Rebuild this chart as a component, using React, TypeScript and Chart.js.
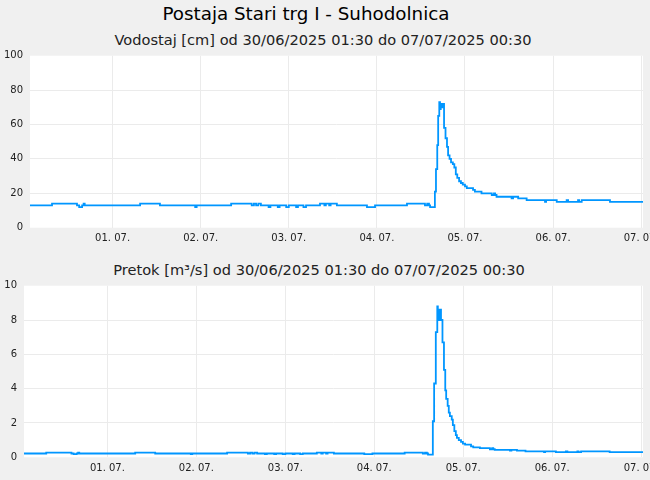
import React, { useEffect, useRef } from "react";
import Chart from "chart.js/auto";
import type { Plugin, Scale } from "chart.js";

const BG = "#f0f0f0";
const GRID = "#ebebeb";
const LINE = "#0096ff";
const TICK = "#222222";
const FONT = "'DejaVu Sans', Verdana, sans-serif";

// hours since 30/06/2025 01:30
const X_MAX = 167;
const dayTickHours = [22.5, 46.5, 70.5, 94.5, 118.5, 142.5, 166.5];
const dayTickLabels = ["01. 07.", "02. 07.", "03. 07.", "04. 07.", "05. 07.", "06. 07.", "07. 07."];

// Vodostaj [cm], step changes
const levelHours = [
  0, 6.0, 12.8, 13.4, 14.2, 14.6, 14.9, 30.0, 35.4, 45.0, 45.4, 54.8, 60.4, 61.0, 61.6, 62.2, 62.9,
  65.0, 65.5, 67.5, 68.0, 69.8, 70.5, 72.5, 73.0, 74.5, 75.2, 79.0, 80.2, 80.6, 81.5, 81.9, 83.6,
  91.8, 94.0, 102.7, 107.6, 108.2, 108.7, 109.0,
  110.3, 110.6, 110.95, 111.2, 111.5, 111.7, 111.9, 112.1, 112.4, 112.8, 113.2, 113.6, 113.9, 114.3,
  114.7, 115.2, 115.6, 116.0, 116.4, 116.9, 117.4, 117.9, 118.5, 119.0, 120.7, 121.2, 123.0, 125.8,
  126.4, 126.7, 127.1, 131.2, 131.6, 133.0, 135.3, 140.3, 140.6, 143.5, 146.2, 146.6, 149.3, 149.6,
  150.3, 158.0, 167,
];
const levelValues = [
  13, 14, 13, 12, 13, 14, 13, 14, 13, 12, 13, 14, 13, 14, 13, 14, 13,
  12, 13, 12, 13, 12, 13, 12, 13, 12, 13, 14, 13, 14, 13, 14, 13,
  12, 13, 14, 13, 14, 13, 12,
  21, 34, 48, 65, 73, 69, 72, 70, 72, 58, 52, 47, 42, 40,
  38, 37, 35, 31, 29, 27, 26, 25, 24, 23, 22, 21, 20, 19,
  20, 19, 18, 17, 18, 17, 16, 15, 16, 15, 16, 15, 16, 15,
  16, 15, 15,
];

// Pretok [m³/s], step changes
const flowHours = [
  0, 6.0, 12.8, 13.4, 14.2, 14.6, 14.9, 30.0, 35.4, 45.0, 45.4, 54.8, 60.4, 61.0, 61.6, 62.2, 62.9,
  65.0, 65.5, 67.5, 68.0, 69.8, 70.5, 72.5, 73.0, 74.5, 75.2, 79.0, 80.2, 80.6, 81.5, 81.9, 83.6,
  91.8, 94.0, 102.7, 107.6, 108.2, 108.7, 109.0,
  110.3, 110.65, 111.1, 111.5, 111.65, 111.8, 111.95, 112.1, 112.5, 112.9, 113.3, 113.65, 113.9,
  114.3, 114.6, 114.9, 115.4, 115.7, 116.1, 116.5, 116.8, 117.3, 117.9, 118.4, 119.0, 120.6, 121.2,
  123.0, 125.7, 126.3, 126.6, 127.0, 131.1, 131.5, 133.0, 135.3, 140.3, 140.6, 143.5, 146.2, 146.6,
  149.3, 149.6, 150.3, 158.0, 167,
];
const flowValues = [
  0.22, 0.27, 0.22, 0.18, 0.22, 0.27, 0.22, 0.27, 0.22, 0.18, 0.22, 0.27, 0.22, 0.27, 0.22, 0.27, 0.22,
  0.18, 0.22, 0.18, 0.22, 0.18, 0.22, 0.18, 0.22, 0.18, 0.22, 0.27, 0.22, 0.27, 0.22, 0.27, 0.22,
  0.18, 0.22, 0.27, 0.22, 0.27, 0.22, 0.16,
  2.1, 4.3, 7.3, 8.8, 8.1, 8.5, 8.0, 8.6, 8.0, 6.7, 5.1, 3.9, 3.4,
  3.0, 2.6, 2.4, 2.2, 1.87, 1.52, 1.29, 1.13, 1.0, 0.9, 0.8, 0.74, 0.64, 0.58,
  0.53, 0.47, 0.53, 0.47, 0.43, 0.39, 0.43, 0.39, 0.35, 0.3, 0.35, 0.3, 0.35, 0.3,
  0.35, 0.3, 0.35, 0.3, 0.3,
];

// white plot area on the grey page
const plotBackground: Plugin<"line"> = {
  id: "plotBackground",
  beforeDraw(c) {
    const { ctx, chartArea } = c;
    if (!chartArea) return;
    ctx.save();
    ctx.fillStyle = "#ffffff";
    ctx.fillRect(chartArea.left, chartArea.top, chartArea.right - chartArea.left, chartArea.bottom - chartArea.top);
    ctx.restore();
  },
};

type PanelProps = {
  hours: number[];
  values: number[];
  yMax: number;
  yStep: number;
  axisWidth: number;
  top: number;
  height: number;
  padTop: number;
  xAxisHeight: number;
};

function Panel({ hours, values, yMax, yStep, axisWidth, top, height, padTop, xAxisHeight }: PanelProps) {
  const canvasRef = useRef<HTMLCanvasElement | null>(null);

  useEffect(() => {
    const canvas = canvasRef.current;
    if (!canvas) return;

    const chart = new Chart(canvas, {
      type: "line",
      data: {
        datasets: [
          {
            data: hours.map((h, i) => ({ x: h, y: values[i] })),
            borderColor: LINE,
            backgroundColor: LINE,
            borderWidth: 1.8,
            pointRadius: 0,
            stepped: true,
            fill: false,
          },
        ],
      },
      options: {
        animation: false,
        responsive: false,
        events: [],
        layout: { padding: { top: padTop, right: 7, left: 0, bottom: 0 } },
        plugins: { legend: { display: false }, tooltip: { enabled: false } },
        scales: {
          x: {
            type: "linear",
            min: 0,
            max: X_MAX,
            border: { display: false },
            grid: { color: GRID, drawTicks: false },
            ticks: {
              color: TICK,
              font: { family: FONT, size: 10 },
              padding: 5,
              maxRotation: 0,
              autoSkip: false,
              callback: (v) => {
                const i = dayTickHours.indexOf(Number(v));
                return i >= 0 ? dayTickLabels[i] : "";
              },
            },
            afterBuildTicks: (s: Scale) => {
              s.ticks = dayTickHours.map((v) => ({ value: v }));
            },
            afterFit: (s: any) => {
              s.height = xAxisHeight;
              s.paddingLeft = 0;
              s.paddingRight = 0;
            },
          },
          y: {
            min: 0,
            max: yMax,
            border: { display: false },
            grid: {
              drawTicks: false,
              color: (ctx: any) =>
                ctx.tick && (ctx.tick.value === 0 || ctx.tick.value === yMax) ? "rgba(0,0,0,0)" : GRID,
            },
            ticks: { stepSize: yStep, color: TICK, font: { family: FONT, size: 10 }, padding: 7 },
            afterFit: (s: any) => {
              s.width = axisWidth;
              s.paddingTop = 0;
              s.paddingBottom = 0;
            },
          },
        },
      },
      plugins: [plotBackground],
    });

    return () => chart.destroy();
  }, []);

  return (
    <canvas
      ref={canvasRef}
      width={650}
      height={height}
      style={{ position: "absolute", left: 0, top, width: 650, height }}
    />
  );
}

const textBase: React.CSSProperties = {
  position: "absolute",
  left: 0,
  textAlign: "center",
  fontFamily: FONT,
  whiteSpace: "nowrap",
};

export default function App() {
  return (
    <div style={{ position: "absolute", left: 0, top: 0, width: 650, height: 480, background: BG, overflow: "hidden" }}>
      <div style={{ ...textBase, top: 5, width: 612, fontSize: 18.3, lineHeight: "18px", color: "#000" }}>
        Postaja Stari trg I - Suhodolnica
      </div>
      <div style={{ ...textBase, top: 32.6, width: 646, fontSize: 14.6, lineHeight: "14.6px", color: "#222" }}>
        Vodostaj [cm] od 30/06/2025 01:30 do 07/07/2025 00:30
      </div>
      <Panel
        hours={levelHours}
        values={levelValues}
        yMax={100}
        yStep={20}
        axisWidth={30}
        top={48}
        height={205}
        padTop={7.7}
        xAxisHeight={25.3}
      />
      <div style={{ ...textBase, top: 262.6, width: 638, fontSize: 14.6, lineHeight: "14.6px", color: "#222" }}>
        Pretok [m³/s] od 30/06/2025 01:30 do 07/07/2025 00:30
      </div>
      <Panel
        hours={flowHours}
        values={flowValues}
        yMax={10}
        yStep={2}
        axisWidth={24}
        top={276}
        height={204}
        padTop={9.7}
        xAxisHeight={22.7}
      />
    </div>
  );
}
